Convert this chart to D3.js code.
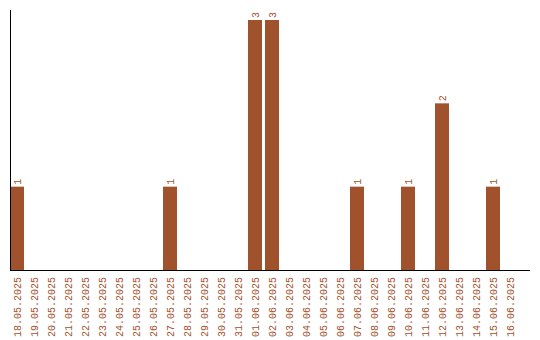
<!DOCTYPE html>
<html lang="en">
<head>
  <meta charset="UTF-8">
  <title>Chart</title>
  <script src="https://cdn.jsdelivr.net/npm/d3@7"></script>
  <style>
    body { margin: 0; background: #fff; }
  </style>
</head>
<body>
<div id="app"></div>
<script>
const dates = [
  "18.05.2025", "19.05.2025", "20.05.2025", "21.05.2025", "22.05.2025",
  "23.05.2025", "24.05.2025", "25.05.2025", "26.05.2025", "27.05.2025",
  "28.05.2025", "29.05.2025", "30.05.2025", "31.05.2025", "01.06.2025",
  "02.06.2025", "03.06.2025", "04.06.2025", "05.06.2025", "06.06.2025",
  "07.06.2025", "08.06.2025", "09.06.2025", "10.06.2025", "11.06.2025",
  "12.06.2025", "13.06.2025", "14.06.2025", "15.06.2025", "16.06.2025"
];
const counts = [
  1, 0, 0, 0, 0, 0, 0, 0, 0, 1,
  0, 0, 0, 0, 3, 3, 0, 0, 0, 0,
  1, 0, 0, 1, 0, 2, 0, 0, 1, 0
];

const width = 540, height = 340;
const color = "#a0522d";
const font = "Liberation Mono, monospace";

const svg = d3.select("#app").append("svg")
  .attr("width", width)
  .attr("height", height);

const x = d3.scaleBand()
  .domain(dates)
  .range([10, 517])
  .paddingInner(3 / 17)
  .paddingOuter(0);

const y = d3.scaleLinear()
  .domain([0, 3.12])
  .range([270, 10]);

const data = dates.map((d, i) => ({ date: d, value: counts[i] }));

// bars
svg.append("g")
  .selectAll("rect")
  .data(data.filter(d => d.value > 0))
  .enter()
  .append("rect")
  .attr("x", d => x(d.date))
  .attr("y", d => y(d.value))
  .attr("width", x.bandwidth())
  .attr("height", d => y(0) - y(d.value))
  .attr("fill", color);

// value labels
svg.append("g")
  .selectAll("text")
  .data(data.filter(d => d.value > 0))
  .enter()
  .append("text")
  .attr("transform", d => `translate(${x(d.date) + x.bandwidth() / 2 + 3.5},${y(d.value) - 2}) rotate(-90)`)
  .attr("font-family", font)
  .attr("font-size", 10)
  .attr("fill", color)
  .text(d => d.value);

// x axis
const xAxisG = svg.append("g")
  .attr("transform", `translate(0,${y(0)})`)
  .call(d3.axisBottom(x).tickSize(0).tickPadding(0));
xAxisG.select(".domain").remove();
xAxisG.append("line")
  .attr("x1", 10).attr("x2", 530)
  .attr("y1", 0.5).attr("y2", 0.5)
  .attr("stroke", "#000");
xAxisG.selectAll(".tick text")
  .attr("font-family", font)
  .attr("font-size", 10)
  .attr("fill", color)
  .attr("text-anchor", "end")
  .attr("dy", null)
  .attr("transform", "translate(3.5,7) rotate(-90)")
  .attr("x", 0)
  .attr("y", 0);

// y axis
svg.append("line")
  .attr("x1", 10.5).attr("x2", 10.5)
  .attr("y1", 10).attr("y2", 270)
  .attr("stroke", "#000");
</script>
</body>
</html>
